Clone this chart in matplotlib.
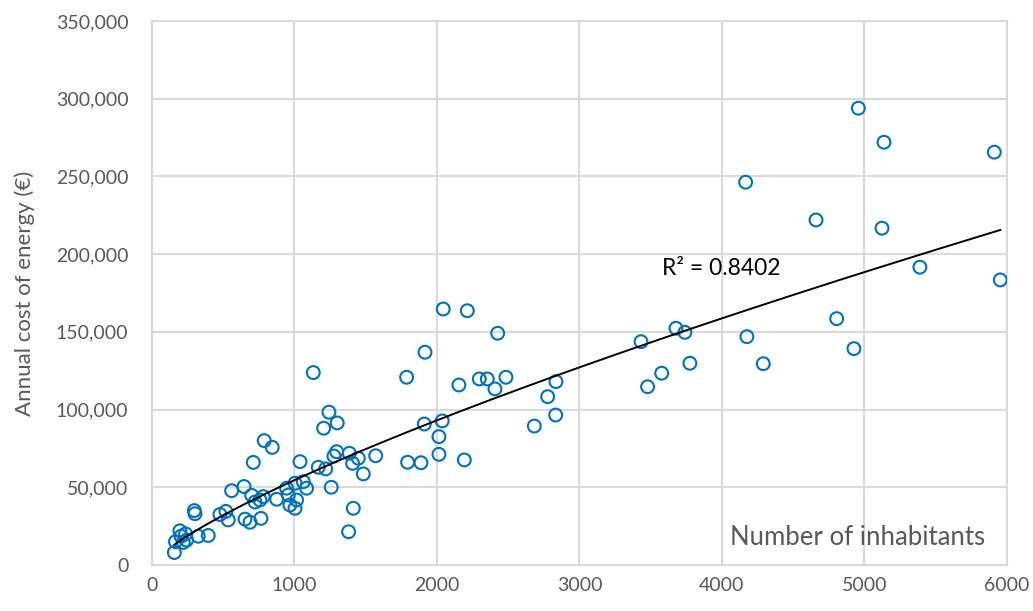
import numpy as np
import matplotlib
matplotlib.use("Agg")
import matplotlib.pyplot as plt
from matplotlib.ticker import FuncFormatter

plt.rcParams['font.family'] = ['Lato', 'DejaVu Sans']

# number of inhabitants per municipality
inhabitants = [
    157, 165, 196, 236, 243, 220, 204, 325, 395, 297, 302, 477, 519, 535,
    559, 646, 653, 700, 688, 723, 758, 765, 781, 711, 788, 844, 875, 945,
    957, 968, 1004, 1004, 1015, 1062, 1085, 1039, 1132, 1167, 1219, 1205,
    1242, 1300, 1258, 1277, 1296, 1385, 1408, 1448, 1483, 1570, 1413, 1380,
    1787, 1916, 1794, 1888, 1911, 2014, 2014, 2044, 2213, 2426, 2154, 2297,
    2353, 2484, 2407, 2192, 2037, 2835, 2777, 2833, 2683,
    3432, 3677, 3740, 3775, 3577, 3478,
    4957, 5137, 5911, 4166, 4660, 5123, 5389, 5953, 4805, 4175, 4290, 4926,
]
# annual cost of energy (EUR)
energy_cost = [
    8000, 15000, 22000, 20000, 16000, 14500, 18500, 18500, 19000, 35000,
    33000, 32500, 34500, 29000, 47800, 50500, 29500, 44800, 27500, 40500,
    41800, 30000, 44000, 66000, 80000, 75700, 42300, 49400, 45000, 38600,
    36500, 52600, 41800, 53600, 49400, 66500, 123800, 62900, 61800, 88000,
    98300, 91400, 50000, 70100, 72900, 71900, 65400, 68700, 58600, 70300,
    36500, 21400, 120800, 136900, 66100, 65800, 90700, 82600, 71200, 164700,
    163600, 149100, 115800, 119700, 119700, 120800, 113300, 67600, 92700,
    118000, 108300, 96500, 89400,
    143700, 152300, 149700, 129800, 123400, 114700,
    293900, 272000, 265600, 246300, 222000, 216700, 191600, 183400, 158500,
    146900, 129500, 139200,
]
r2_label = "R² = 0.8402"

x = np.array(inhabitants, dtype=float)
y = np.array(energy_cost, dtype=float)

# power trendline fitted in log space
b, log_a = np.polyfit(np.log(x), np.log(y), 1)
x_fit = np.linspace(x.min(), x.max(), 200)
y_fit = np.exp(log_a) * x_fit ** b

fig = plt.figure(figsize=(10.33, 6.11), dpi=100)
ax = fig.add_axes([0.1471, 0.0753, 0.8277, 0.8903])

grid_col = '#d9d9d9'
text_col = '#595959'

ax.scatter(x, y, s=85, facecolors='none', edgecolors='#0070c0',
           linewidths=1.5, zorder=3)
ax.plot(x_fit, y_fit, color='black', linewidth=1.4, zorder=4)

ax.set_xlim(0, 6000)
ax.set_ylim(0, 350000)
ax.set_xticks(range(0, 6001, 1000))
ax.set_yticks(range(0, 350001, 50000))
ax.yaxis.set_major_formatter(FuncFormatter(lambda v, p: f"{int(v):,}"))

ax.grid(True, color=grid_col, linewidth=1.5, zorder=0)
for s in ax.spines.values():
    s.set_color(grid_col)
    s.set_linewidth(1.5)

ax.tick_params(axis='both', length=0, labelsize=14, labelcolor=text_col)
ax.tick_params(axis='y', pad=17)
ax.tick_params(axis='x', pad=9)

ax.set_ylabel("Annual cost of energy (€)", fontsize=16, color=text_col)
ax.yaxis.set_label_coords(-0.137, 0.5)
ax.set_xlabel("Number of inhabitants", fontsize=18.5, color=text_col,
              ha='right', va='center')
ax.xaxis.set_label_coords(0.974, 0.05)

ax.text(3579, 191000, r2_label, fontsize=16.5, color='black',
        ha='left', va='center', zorder=5)

fig.savefig("out.png", dpi=100)
